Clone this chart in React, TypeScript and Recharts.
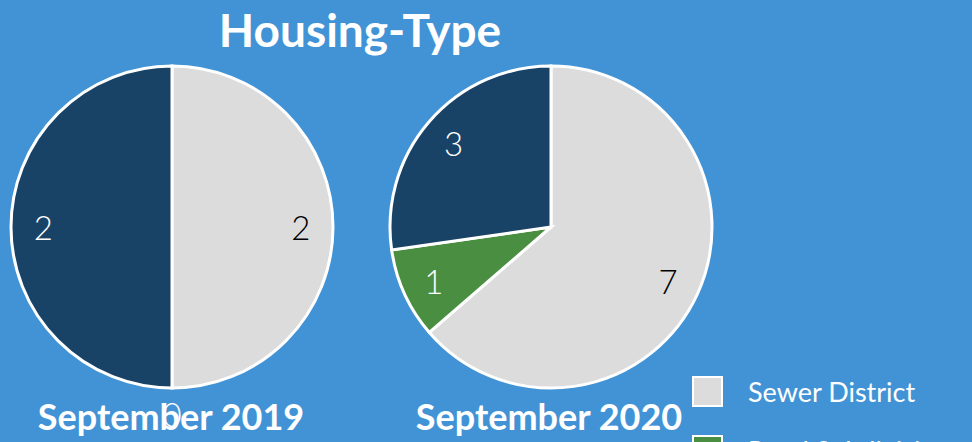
import React from "react";
import { PieChart, Pie, Cell } from "recharts";

const categories = ["Sewer District", "Rural Subdivision", "Other"];
const colors = ["#dcdcdc", "#4a8f41", "#184266"];
const values2019 = [2, 0, 2];
const values2020 = [7, 1, 3];
const periodLabels = ["September 2019", "September 2020"];
const title = "Housing-Type";

const data2019 = categories.map((name, i) => ({ name, value: values2019[i] }));
const data2020 = categories.map((name, i) => ({ name, value: values2020[i] }));

const BG = "#4293d5";
const RAD = Math.PI / 180;
const font = "Lato, 'Noto Sans', sans-serif";

const renderLabel = (props: any) => {
  const { cx, cy, midAngle, outerRadius, value, index } = props;
  const r = value === 0 ? outerRadius + 26 : outerRadius * 0.8;
  const x = cx + r * Math.cos(-midAngle * RAD);
  const y = cy + r * Math.sin(-midAngle * RAD);
  const fill = index === 0 && value !== 0 ? "#000000" : "#ffffff";
  return (
    <text
      x={x}
      y={y}
      fill={fill}
      textAnchor="middle"
      dominantBaseline="central"
      fontFamily={font}
      fontWeight={300}
      fontSize={33}
    >
      {value}
    </text>
  );
};

export default function App() {
  return (
    <div
      style={{
        position: "absolute",
        left: 0,
        top: 0,
        width: 972,
        height: 442,
        background: BG,
        overflow: "hidden",
      }}
    >
      <div
        style={{
          position: "absolute",
          left: 0,
          width: 720,
          top: 1,
          textAlign: "center",
          color: "#fff",
          fontFamily: font,
          fontWeight: 700,
          fontSize: 46,
          lineHeight: "58px",
        }}
      >
        {title}
      </div>
      <div style={{ position: "absolute", left: 0, top: 0 }}>
        <PieChart width={972} height={442} margin={{ top: 0, right: 0, bottom: 0, left: 0 }}>
          <Pie
            data={data2019}
            dataKey="value"
            cx={172}
            cy={227}
            outerRadius={161}
            startAngle={90}
            endAngle={-270}
            stroke="#ffffff"
            strokeWidth={3}
            label={renderLabel}
            labelLine={false}
            isAnimationActive={false}
          >
            {data2019.map((d, i) => (
              <Cell key={d.name} fill={colors[i]} />
            ))}
          </Pie>
          <Pie
            data={data2020}
            dataKey="value"
            cx={551}
            cy={227}
            outerRadius={161}
            startAngle={90}
            endAngle={-270}
            stroke="#ffffff"
            strokeWidth={3}
            label={renderLabel}
            labelLine={false}
            isAnimationActive={false}
          >
            {data2020.map((d, i) => (
              <Cell key={d.name} fill={colors[i]} />
            ))}
          </Pie>
        </PieChart>
      </div>
      <div style={{ position: "absolute", left: 692, top: 362, display: "flex", flexDirection: "column" }}>
        {categories.map((c, i) => (
          <div key={c} style={{ display: "flex", alignItems: "center", height: 59 }}>
            <div
              style={{
                width: 27,
                height: 27,
                background: colors[i],
                border: "2px solid #ffffff",
                boxSizing: "content-box",
              }}
            />
            <span
              style={{
                marginLeft: 25,
                color: "#ffffff",
                fontFamily: font,
                fontWeight: 400,
                fontSize: 27,
                whiteSpace: "nowrap",
              }}
            >
              {c}
            </span>
          </div>
        ))}
      </div>
      {periodLabels.map((p, i) => (
        <div
          key={p}
          style={{
            position: "absolute",
            left: i === 0 ? 171 - 180 : 549 - 180,
            width: 360,
            top: 393,
            textAlign: "center",
            color: "#fff",
            fontFamily: font,
            fontWeight: 700,
            fontSize: 36,
            lineHeight: "46px",
            pointerEvents: "none",
          }}
        >
          {p}
        </div>
      ))}
    </div>
  );
}
